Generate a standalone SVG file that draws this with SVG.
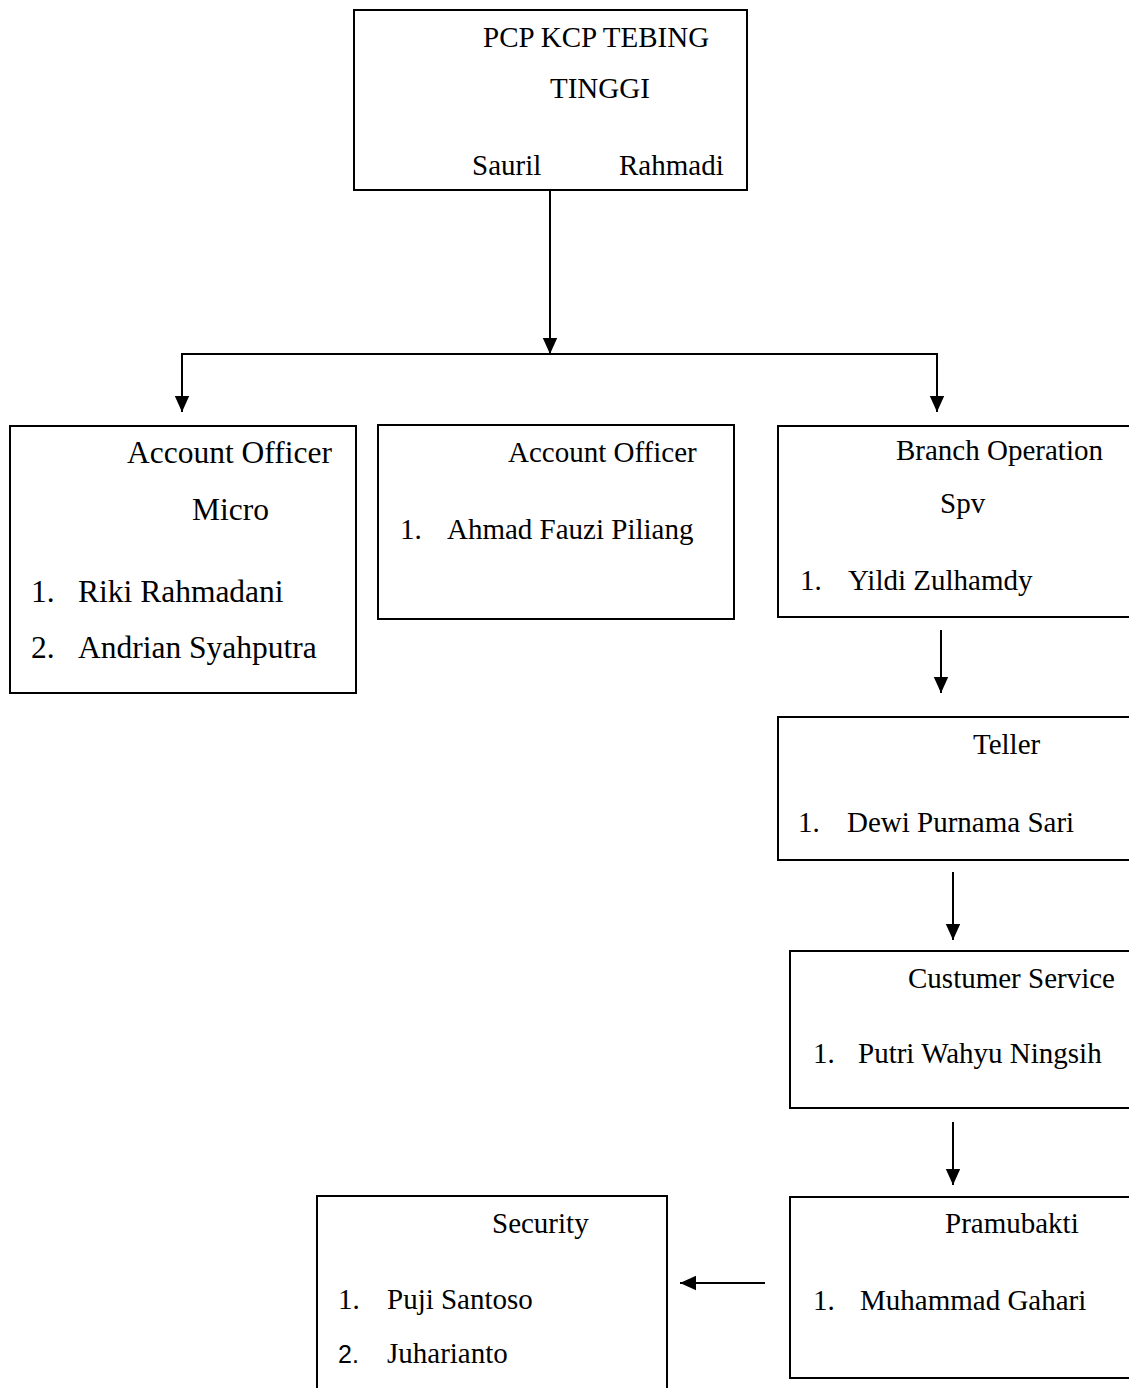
<svg xmlns="http://www.w3.org/2000/svg" width="1129" height="1388" viewBox="0 0 1129 1388">
<style>
  .box { fill: #fff; stroke: #000; stroke-width: 2; }
  .t { font-family: "Liberation Serif", "Times New Roman", serif; font-size: 29px; fill: #000; }
  .tl { font-family: "Liberation Serif", "Times New Roman", serif; font-size: 31.5px; fill: #000; }
  .ts { font-family: "Liberation Sans", Arial, sans-serif; font-size: 25px; fill: #000; }
  .c { fill: none; stroke: #000; stroke-width: 2; }
</style>
<defs>
  <marker id="ah" viewBox="0 0 10 10" refX="10" refY="5" markerUnits="userSpaceOnUse" markerWidth="16" markerHeight="16" orient="auto">
    <path d="M0,0.5 L10,5 L0,9.5 z" fill="#000"/>
  </marker>
</defs>
<rect width="1129" height="1388" fill="#fff"/>

<g id="connectors">
  <line class="c" x1="550" y1="191" x2="550" y2="354" marker-end="url(#ah)"/>
  <line class="c" x1="181" y1="354" x2="938" y2="354"/>
  <line class="c" x1="182" y1="354" x2="182" y2="412" marker-end="url(#ah)"/>
  <line class="c" x1="937" y1="354" x2="937" y2="412" marker-end="url(#ah)"/>
  <line class="c" x1="941" y1="630" x2="941" y2="693" marker-end="url(#ah)"/>
  <line class="c" x1="953" y1="872" x2="953" y2="940" marker-end="url(#ah)"/>
  <line class="c" x1="953" y1="1122" x2="953" y2="1185" marker-end="url(#ah)"/>
  <line class="c" x1="765" y1="1283" x2="680" y2="1283" marker-end="url(#ah)"/>
</g>

<g id="node-pcp">
  <rect class="box" x="354" y="10" width="393" height="180"/>
  <text class="t" x="483" y="47">PCP KCP TEBING</text>
  <text class="t" x="550" y="98">TINGGI</text>
  <text class="t" x="472" y="175">Sauril</text>
  <text class="t" x="619" y="175">Rahmadi</text>
</g>

<g id="node-ao-micro">
  <rect class="box" x="10" y="426" width="346" height="267"/>
  <text class="tl" x="127" y="463">Account Officer</text>
  <text class="tl" x="192" y="520">Micro</text>
  <text class="tl" x="31" y="602">1.</text>
  <text class="tl" x="78" y="602">Riki Rahmadani</text>
  <text class="tl" x="31" y="658">2.</text>
  <text class="tl" x="78" y="658">Andrian Syahputra</text>
</g>

<g id="node-ao">
  <rect class="box" x="378" y="425" width="356" height="194"/>
  <text class="t" x="508" y="462">Account Officer</text>
  <text class="t" x="400" y="539">1.</text>
  <text class="t" x="447" y="539">Ahmad Fauzi Piliang</text>
</g>

<g id="node-branch">
  <rect class="box" x="778" y="426" width="360" height="191"/>
  <text class="t" x="896" y="460">Branch Operation</text>
  <text class="t" x="940" y="513">Spv</text>
  <text class="t" x="800" y="590">1.</text>
  <text class="t" x="848" y="590">Yildi Zulhamdy</text>
</g>

<g id="node-teller">
  <rect class="box" x="778" y="717" width="360" height="143"/>
  <text class="t" x="973" y="754">Teller</text>
  <text class="t" x="798" y="832">1.</text>
  <text class="t" x="847" y="832">Dewi Purnama Sari</text>
</g>

<g id="node-cs">
  <rect class="box" x="790" y="951" width="348" height="157"/>
  <text class="t" x="908" y="988">Custumer Service</text>
  <text class="t" x="813" y="1063">1.</text>
  <text class="t" x="858" y="1063">Putri Wahyu Ningsih</text>
</g>

<g id="node-pramubakti">
  <rect class="box" x="790" y="1197" width="348" height="181"/>
  <text class="t" x="945" y="1233">Pramubakti</text>
  <text class="t" x="813" y="1310">1.</text>
  <text class="t" x="860" y="1310">Muhammad Gahari</text>
</g>

<g id="node-security">
  <rect class="box" x="317" y="1196" width="350" height="210"/>
  <text class="t" x="492" y="1233">Security</text>
  <text class="t" x="338" y="1309">1.</text>
  <text class="t" x="387" y="1309">Puji Santoso</text>
  <text class="ts" x="338" y="1363">2.</text>
  <text class="t" x="387" y="1363">Juharianto</text>
</g>
</svg>
